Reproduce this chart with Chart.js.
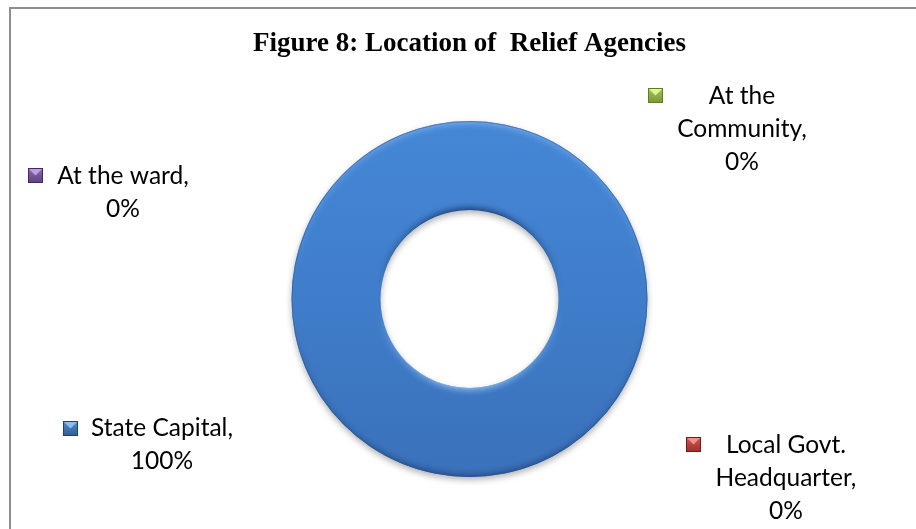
<!DOCTYPE html>
<html>
<head>
<meta charset="utf-8">
<title>Figure 8: Location of Relief Agencies</title>
<script src="https://cdn.jsdelivr.net/npm/chart.js@4"></script>
<style>
    html, body { margin: 0; padding: 0; background: #fff; overflow: hidden; }
    #frame {
        position: absolute; left: 9px; top: 7px;
        width: 1000px; height: 700px;
        border: 2px solid #8e8e8e; box-sizing: border-box;
    }
    #reliefChart { position: absolute; left: 0; top: 0; }
</style>
</head>
<body>
<div id="frame"></div>
<canvas id="reliefChart" width="916" height="529"></canvas>
<script>
// values (percent of respondents)
const categories = ["State Capital", "Local Govt. Headquarter", "At the Community", "At the ward"];
const shares = [100, 0, 0, 0];
const sliceColors = ["#4F81BD", "#C0504D", "#9BBB59", "#8064A2"];

// where each data label sits, and how many words go on its first line
const labelSpots = [
    { cx: 162, y: 428, keyX: 63, keyY: 421, split: 0 },
    { cx: 786, y: 445, keyX: 686, keyY: 437, split: 2 },
    { cx: 742, y: 96, keyX: 648, keyY: 88, split: 2 },
    { cx: 123, y: 176, keyX: 28, keyY: 168, split: 0 },
];

const labelFont = "24.5px Lato";
const lineGap = 33;

function ringFill(context) {
    const chart = context.chart;
    const area = chart.chartArea;
    const i = context.dataIndex;
    if (!area || i !== 0) return sliceColors[i];
    const g = chart.ctx.createLinearGradient(0, area.top, 0, area.bottom);
    g.addColorStop(0, "#4587d6");
    g.addColorStop(0.5, "#3f7dca");
    g.addColorStop(1, "#3a71ba");
    return g;
}

function shade(hex, amt) {
    const n = parseInt(hex.slice(1), 16);
    const f = (c) => Math.max(0, Math.min(255, Math.round(c + amt)));
    return `rgb(${f(n >> 16)}, ${f((n >> 8) & 255)}, ${f(n & 255)})`;
}

// soft shadow under the ring
const ringShadow = {
    id: "ringShadow",
    beforeDatasetsDraw(chart) {
        const ctx = chart.ctx;
        ctx.save();
        ctx.shadowColor = "rgba(0, 0, 0, 0.3)";
        ctx.shadowBlur = 6;
        ctx.shadowOffsetY = 3;
    },
    afterDatasetsDraw(chart) {
        chart.ctx.restore();
    },
};

// stroke a circle whose colour runs from top to bottom
function shadedCircle(ctx, x, y, r, top, bottom, alpha) {
    const g = ctx.createLinearGradient(0, y - r, 0, y + r);
    g.addColorStop(0, `rgba(${top}, ${alpha})`);
    g.addColorStop(0.45, `rgba(${top}, 0)`);
    g.addColorStop(0.55, `rgba(${bottom}, 0)`);
    g.addColorStop(1, `rgba(${bottom}, ${alpha})`);
    ctx.strokeStyle = g;
    ctx.beginPath();
    ctx.arc(x, y, r, 0, Math.PI * 2);
    ctx.stroke();
}

// bevel on the ring edges: lit from above
const ringBevel = {
    id: "ringBevel",
    afterDatasetsDraw(chart) {
        const arc = chart.getDatasetMeta(0).data[0];
        if (!arc) return;
        const ctx = chart.ctx;
        const { x, y, outerRadius, innerRadius } = arc;
        const band = 9;

        ctx.save();
        ctx.lineWidth = 1;
        for (let k = 0; k < band; k++) {
            const a = Math.pow(1 - k / band, 2);
            shadedCircle(ctx, x, y, outerRadius - k - 0.5, "150, 195, 245", "25, 55, 105", a * 0.55);
            shadedCircle(ctx, x, y, innerRadius + k + 0.5, "20, 45, 90", "160, 205, 250", a * 0.65);
        }
        ctx.strokeStyle = "rgba(45, 85, 145, 0.55)";
        ctx.beginPath();
        ctx.arc(x, y, outerRadius - 0.5, 0, Math.PI * 2);
        ctx.stroke();
        ctx.restore();
    },
};

// data labels with their little legend keys
const sliceLabels = {
    id: "sliceLabels",
    afterDraw(chart) {
        const ctx = chart.ctx;
        const data = chart.data.datasets[0].data;
        const total = data.reduce((a, b) => a + b, 0);
        ctx.save();
        ctx.textAlign = "center";
        ctx.textBaseline = "middle";
        chart.data.labels.forEach((name, i) => {
            const spot = labelSpots[i];
            const words = name.split(" ");
            const lines = spot.split
                ? [words.slice(0, spot.split).join(" "), words.slice(spot.split).join(" ") + ","]
                : [name + ","];
            lines.push(Math.round((data[i] / total) * 100) + "%");
            ctx.font = labelFont;
            ctx.fillStyle = "#000";
            lines.forEach((t, k) => ctx.fillText(t, spot.cx, spot.y + k * lineGap));

            // beveled square key
            const s = 15, kx = spot.keyX, ky = spot.keyY, c = sliceColors[i];
            const kg = ctx.createLinearGradient(0, ky, 0, ky + s);
            kg.addColorStop(0, shade(c, 10));
            kg.addColorStop(1, shade(c, -35));
            ctx.fillStyle = kg;
            ctx.fillRect(kx, ky, s, s);
            ctx.beginPath();
            ctx.moveTo(kx + 1, ky + 1);
            ctx.lineTo(kx + s - 1, ky + 1);
            ctx.lineTo(kx + s / 2, ky + s * 0.5);
            ctx.closePath();
            ctx.fillStyle = shade(c, 60);
            ctx.fill();
            ctx.strokeStyle = shade(c, -60);
            ctx.lineWidth = 1;
            ctx.strokeRect(kx + 0.5, ky + 0.5, s - 1, s - 1);
        });
        ctx.restore();
    },
};

new Chart(document.getElementById("reliefChart"), {
    type: "doughnut",
    data: {
        labels: categories,
        datasets: [
            {
                data: shares,
                backgroundColor: ringFill,
                borderWidth: 0,
                hoverOffset: 0,
            },
        ],
    },
    options: {
        responsive: false,
        animation: false,
        cutout: "50%",
        events: [],
        layout: {
            // wide chart area centred on x = 469.5; height limits the ring
            padding: { left: 23, right: 0, top: 0, bottom: 52 },
        },
        plugins: {
            legend: { display: false },
            tooltip: { enabled: false },
            title: {
                display: true,
                text: "Figure 8: Location of  Relief Agencies",
                color: "#000",
                font: { family: "'Liberation Serif', 'Times New Roman', serif", size: 27, weight: "bold", lineHeight: 1.2 },
                padding: { top: 28, bottom: 60.6 },
            },
        },
    },
    plugins: [ringShadow, ringBevel, sliceLabels],
});
</script>
</body>
</html>
